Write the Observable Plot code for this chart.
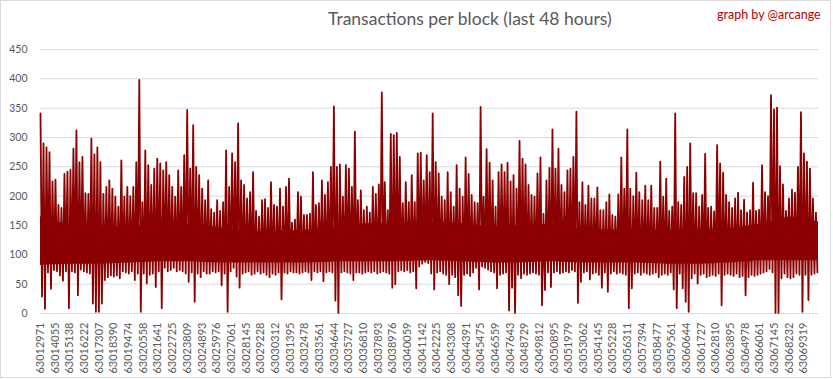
<!DOCTYPE html>
<html><head><meta charset="utf-8">
<script src="https://cdn.jsdelivr.net/npm/d3@7"></script>
<script src="https://cdn.jsdelivr.net/npm/@observablehq/plot@0.6"></script>
<style>
body{margin:0;background:#fff;}
#chart{position:relative;width:833px;height:379px;background:#fff;font-family:Lato,"Open Sans",sans-serif;}
#frame{position:absolute;left:0;top:0;width:831px;height:378px;border:1px solid #d9d9d9;box-sizing:border-box;pointer-events:none;}
#head{position:relative;height:40px;}
#title{position:absolute;left:328px;top:8px;font-size:17.5px;color:#595959;white-space:nowrap;}
#credit{position:absolute;left:717px;top:7px;font-size:12.5px;color:#c00000;white-space:nowrap;}
#plot svg{display:block;}
</style></head>
<body>
<div id="chart"><div id="head"><div id="title">Transactions per block (last 48 hours)</div><div id="credit">graph by @arcange</div></div><div id="plot"></div><div id="frame"></div></div>
<script>
// Block range shown (first block, blocks per sampled bin, last block of the axis)
const firstBlock = 63012971;
const binBlocks = 221;
const lastBlock = 63070400;

// X-axis tick labels (block numbers)
const xTicks = [63012971,63014055,63015138,63016222,63017307,63018390,63019474,63020558,63021641,63022725,63023809,63024893,63025976,63027061,63028145,63029228,63030312,63031395,63032478,63033561,63034644,63035727,63036810,63037893,63038976,63040059,63041142,63042225,63043308,63044391,63045475,63046559,63047643,63048729,63049812,63050895,63051979,63053062,63054145,63055228,63056311,63057394,63058477,63059561,63060644,63061727,63062810,63063895,63064978,63066061,63067145,63068232,63069319];

// Y-axis ticks
const yTicks = [0,50,100,150,200,250,300,350,400,450];

const hi = [341,290,283,275,225,228,185,180,238,242,245,281,312,258,267,205,204,298,271,283,
258,204,216,227,213,199,182,261,199,216,200,216,258,398,190,278,253,219,247,264,
256,244,258,236,216,199,244,216,270,347,247,321,250,236,213,193,227,178,172,193,
175,190,278,216,273,258,324,227,219,196,207,241,175,165,193,195,180,224,185,182,
213,182,216,230,155,160,207,199,168,168,170,241,185,188,227,202,224,250,353,250,
254,199,253,247,216,310,193,210,176,182,172,216,204,220,377,224,176,306,304,308,
267,188,224,190,236,190,273,274,227,270,241,341,258,239,199,193,241,207,182,253,
213,199,266,238,202,190,188,352,199,280,257,227,182,241,254,241,257,225,236,213,
294,264,254,219,202,199,239,266,170,227,248,314,247,281,219,207,244,247,267,344,
190,224,185,218,196,196,215,176,176,190,203,168,165,203,266,213,314,213,200,240,
207,193,218,193,218,180,180,259,199,230,175,182,341,190,185,233,250,290,205,205,
182,202,272,180,182,174,287,256,240,202,190,180,196,206,176,194,172,176,223,175,
177,253,207,200,372,348,351,251,220,175,196,211,206,250,343,273,259,247,196,172];

const lo = [29,8,70,42,74,72,65,56,72,9,72,70,31,75,72,70,68,17,3,3,
17,57,62,65,63,65,60,72,70,68,72,57,68,3,68,51,66,68,45,72,
9,78,72,74,78,72,74,72,68,54,70,20,68,62,72,68,68,72,70,72,
48,68,3,72,78,63,44,68,70,72,66,68,72,68,70,66,62,68,66,70,
24,70,68,72,70,70,68,70,72,70,57,72,70,72,55,70,72,70,22,1,
70,72,70,68,57,70,70,68,70,72,70,72,68,70,72,70,68,44,50,72,
74,72,74,70,72,43,80,85,88,86,68,41,70,72,68,66,50,66,62,31,
13,66,68,64,70,78,41,80,78,75,72,70,43,66,68,70,5,44,1,66,
60,68,66,68,70,68,66,14,40,70,45,70,72,68,70,72,70,74,72,18,
54,70,72,58,68,70,66,44,70,37,68,72,68,70,68,66,9,43,68,70,
66,70,68,66,68,70,62,66,68,66,70,41,9,68,43,20,3,60,68,51,
66,68,62,64,66,64,68,14,66,68,66,64,68,62,64,31,62,66,64,66,
68,70,72,76,70,1,1,60,68,62,60,62,68,66,3,66,23,66,68,70];

// Dense (solid) band of typical values, one reading every 10 bins
const coreTop = [165,150,147,147,152,152,146,140,140,142,148,154,152,156,154,148,150,152,144,142,144,140,144,144,152,165,156];
const coreBottom = [82,84,84,86,88,88,86,86,86,86,88,88,88,90,88,86,86,88,86,86,86,84,84,86,90,90,90];

const points = [];
hi.forEach((h, i) => {
  points.push({block: firstBlock + i * binBlocks, tx: h});
  points.push({block: firstBlock + i * binBlocks + binBlocks / 2, tx: lo[i]});
});
const band = coreTop.map((t, j) => ({block: Math.min(firstBlock + j * 10 * binBlocks, lastBlock), top: t, bottom: coreBottom[j]}));

const chart = Plot.plot({
  width: 833, height: 339,
  marginTop: 9, marginBottom: 66, marginLeft: 40, marginRight: 15,
  style: {fontFamily: "Lato, sans-serif", fontSize: "11px", color: "#595959", background: "transparent"},
  x: {type: "linear", domain: [firstBlock, lastBlock], label: null},
  y: {domain: [0, 450], label: null},
  marks: [
    Plot.gridY(yTicks, {stroke: "#d9d9d9", strokeOpacity: 1, strokeWidth: 1}),
    Plot.axisY(yTicks, {tickSize: 0, tickPadding: 13, fontSize: 10.5, fill: "#595959", label: null}),
    Plot.axisX(xTicks, {tickSize: 0, tickPadding: 9, tickRotate: -90, tickFormat: d => String(d), fontSize: 11, fill: "#595959", label: null}),
    Plot.areaY(band, {x: "block", y1: "bottom", y2: "top", fill: "#8b0000"}),
    Plot.line(points, {x: "block", y: "tx", stroke: "#8b0000", strokeWidth: 1.8})
  ]
});
document.getElementById("plot").appendChild(chart);
</script>
</body></html>
